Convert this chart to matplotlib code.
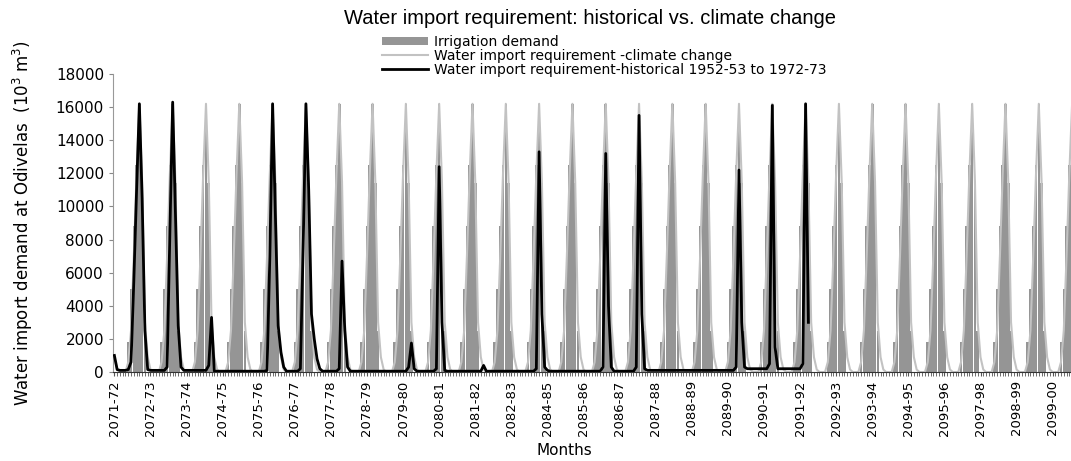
import numpy as np
import matplotlib
matplotlib.use("Agg")
import matplotlib.pyplot as plt
from matplotlib.patches import Patch
from matplotlib.lines import Line2D

# monthly profile of a hydrological year (Oct .. Sep), 10^3 m3
irrigation_profile = [0, 0, 0, 0, 0, 1800, 5000, 8800, 12500, 16200, 11400, 2500]
climate_profile = [900, 150, 0, 0, 0, 600, 2500, 7000, 12000, 16200, 11500, 3000]
n_years = 30

# historical series 1952-53 .. 1972-73 mapped onto 2071-72 .. 2091-92
historical_rows = [
    [1000, 150, 100, 100, 100, 150, 600, 5500, 11000, 16200, 10500, 2500],
    [150, 100, 100, 100, 100, 100, 100, 300, 8500, 16300, 9500, 2800],
    [300, 100, 100, 100, 100, 100, 100, 100, 100, 100, 400, 3300],
    [50, 50, 50, 50, 50, 50, 50, 50, 50, 50, 50, 50],
    [50, 50, 50, 50, 50, 50, 50, 100, 7000, 16200, 9500, 2800],
    [1200, 300, 50, 50, 50, 50, 50, 200, 7500, 16200, 11000, 3500],
    [2000, 800, 200, 50, 50, 50, 50, 50, 50, 200, 6700, 2500],
    [300, 50, 50, 50, 50, 50, 50, 50, 50, 50, 50, 50],
    [50, 50, 50, 50, 50, 50, 50, 50, 50, 50, 300, 1750],
    [200, 50, 50, 50, 50, 50, 50, 50, 200, 12400, 3000, 100],
    [50, 50, 50, 50, 50, 50, 50, 50, 50, 50, 50, 50],
    [50, 400, 50, 50, 50, 50, 50, 50, 50, 50, 50, 50],
    [50, 50, 50, 50, 50, 50, 50, 50, 200, 13300, 3500, 300],
    [100, 50, 50, 50, 50, 50, 50, 50, 50, 50, 50, 50],
    [50, 50, 50, 50, 50, 50, 50, 50, 300, 13200, 4000, 300],
    [50, 50, 50, 50, 50, 50, 50, 50, 300, 15500, 3500, 200],
    [100, 100, 100, 100, 100, 100, 100, 100, 100, 100, 100, 100],
    [100, 100, 100, 100, 100, 100, 100, 100, 100, 100, 100, 100],
    [100, 100, 100, 100, 100, 100, 100, 100, 300, 12200, 3000, 300],
    [200, 200, 200, 200, 200, 200, 200, 200, 500, 16100, 1500, 200],
    [200, 200, 200, 200, 200, 200, 200, 200, 500, 16200, 3000],
]

tick_labels = [
    "2071-72", "2072-73", "2073-74", "2074-75", "2075-76", "2076-77", "2077-78",
    "2078-79", "2079-80", "2080-81", "2081-82", "2082-83", "2084-85", "2085-86",
    "2086-87", "2087-88", "2088-89", "2089-90", "2090-91", "2091-92", "2092-93",
    "2093-94", "2094-95", "2095-96", "2097-98", "2098-99", "2099-00",
]
label_every = 13  # category label interval (months)

irrigation = np.tile(irrigation_profile, n_years)
climate = np.tile(climate_profile, n_years)
historical = np.concatenate([np.array(r, dtype=float) for r in historical_rows])
months = np.arange(len(irrigation))

fig = plt.figure(figsize=(10.71, 4.61), dpi=100)
ax = fig.add_axes([0.1055, 0.193, 0.8945, 0.6465])

ax.bar(months, irrigation, width=0.92, color="#959595", linewidth=0, zorder=1)
ax.plot(months, climate, color="#c2c2c2", lw=1.5, zorder=2)
ax.plot(np.arange(len(historical)), historical, color="black", lw=2.0, zorder=3)

ax.set_xlim(-0.5, 344.6)
ax.set_ylim(0, 18000)
ax.set_yticks(np.arange(0, 18001, 2000))
ax.set_xticks(np.arange(len(tick_labels)) * label_every)
ax.set_xticklabels(tick_labels, rotation=90, fontsize=9.5)
ax.set_xticks(months[months < 345], minor=True)
ax.tick_params(axis="x", which="both", length=3, color="#555555", pad=3)
ax.tick_params(axis="y", length=3, color="#888888", labelsize=11)

for side in ("top", "right"):
    ax.spines[side].set_visible(False)
ax.spines["left"].set_color("#999999")
ax.spines["bottom"].set_color("#333333")

ax.set_ylabel("Water import demand at Odivelas  (10$^3$ m$^3$)", fontsize=12, labelpad=15)
fig.text(0.527, 1 - 450 / 461, "Months", ha="center", va="center", fontsize=11)
fig.text(0.551, 1 - 18 / 461, "Water import requirement: historical vs. climate change",
         ha="center", va="center", fontsize=14.5, family="Liberation Sans")

handles = [
    Patch(facecolor="#959595", edgecolor="none"),
    Line2D([], [], color="#c2c2c2", lw=1.5),
    Line2D([], [], color="black", lw=2.0),
]
labels = [
    "Irrigation demand",
    "Water import requirement -climate change",
    "Water import requirement-historical 1952-53 to 1972-73",
]
fig.legend(handles, labels, loc="upper left", bbox_to_anchor=(0.357, 1 - 35 / 461),
           frameon=False, fontsize=10, handlelength=3.3, handleheight=0.55,
           handletextpad=0.4, labelspacing=0.0, borderpad=0, borderaxespad=0)

fig.savefig("out.png", dpi=100)
